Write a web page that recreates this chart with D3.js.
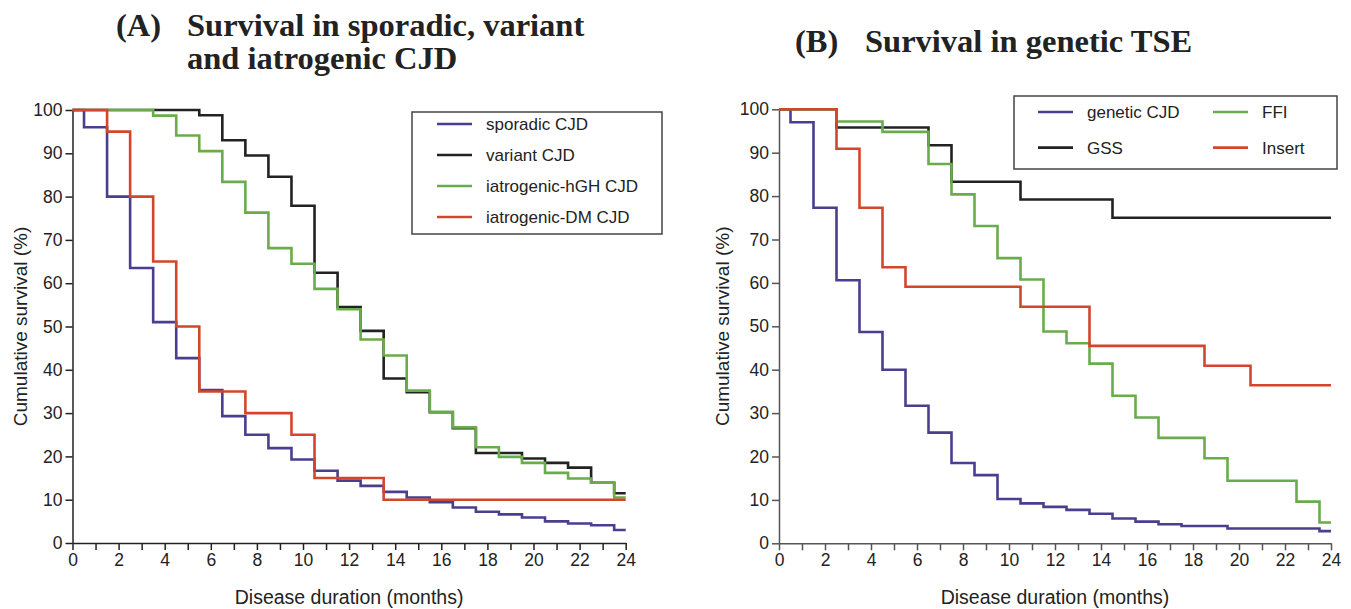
<!DOCTYPE html>
<html>
<head>
<meta charset="utf-8">
<title>Survival in CJD and genetic TSE</title>
<script src="https://cdn.jsdelivr.net/npm/d3@7"></script>
<style>
  body { margin: 0; background: #fff; }
  text { font-family: "Liberation Sans", Arial, Helvetica, sans-serif; fill: #222; }
  .title { font-family: "Liberation Serif", "Times New Roman", serif; font-weight: bold; font-size: 32.5px; fill: #222; }
</style>
</head>
<body>
<svg id="chart" width="1351" height="609"></svg>
<script>
// month at which each interval starts (steps happen at half months)
var stepMonths = [0, 0.5, 1.5, 2.5, 3.5, 4.5, 5.5, 6.5, 7.5, 8.5, 9.5, 10.5, 11.5,
                  12.5, 13.5, 14.5, 15.5, 16.5, 17.5, 18.5, 19.5, 20.5, 21.5, 22.5, 23.5];
var endMonth = 24;

// panel A
var sporadicCJD = [100, 96, 80, 63.5, 51, 42.7, 35.3, 29.3, 25, 21.9, 19.3, 16.7, 14.4,
                   13.2, 11.8, 10.5, 9.4, 8.2, 7.2, 6.6, 5.9, 5.0, 4.5, 4.1, 3.0];
var variantCJD = [100, 100, 100, 100, 100, 100, 98.8, 93, 89.5, 84.6, 77.9, 62.4, 54.5,
                  49, 38, 34.8, 30.2, 26.5, 20.8, 20.8, 19.5, 18.5, 17.4, 13.9, 11.5];
var hghCJD = [100, 100, 100, 100, 98.7, 94.1, 90.5, 83.4, 76.3, 68.1, 64.5, 58.7, 54,
              47, 43.3, 35.2, 30.3, 26.7, 22.1, 19.9, 18.5, 16.2, 14.9, 13.9, 10.5];
var dmCJD = [100, 100, 95, 80, 65, 50, 35, 35, 30, 30, 25, 15, 15,
             15, 10, 10, 10, 10, 10, 10, 10, 10, 10, 10, 10];

// panel B
var geneticCJD = [100, 97, 77.3, 60.6, 48.7, 40, 31.7, 25.5, 18.5, 15.7, 10.2, 9.2, 8.4,
                  7.7, 6.8, 5.7, 5.0, 4.4, 4.0, 4.0, 3.4, 3.4, 3.4, 3.4, 2.8];
var gss = [100, 100, 100, 95.8, 95.8, 95.8, 95.8, 91.7, 83.3, 83.3, 83.3, 79.2, 79.2,
           79.2, 79.2, 75, 75, 75, 75, 75, 75, 75, 75, 75, 75];
var ffi = [100, 100, 100, 97.2, 97.2, 94.8, 94.8, 87.4, 80.4, 73.1, 65.7, 60.8, 48.8,
           46.1, 41.4, 34, 29, 24.3, 24.3, 19.6, 14.4, 14.4, 14.4, 9.6, 4.8];
var insert = [100, 100, 100, 90.9, 77.3, 63.6, 59.1, 59.1, 59.1, 59.1, 59.1, 54.5, 54.5,
              54.5, 45.5, 45.5, 45.5, 45.5, 45.5, 40.9, 40.9, 36.4, 36.4, 36.4, 36.4];

var yTicks = [0, 10, 20, 30, 40, 50, 60, 70, 80, 90, 100];
var xTicks = [0, 1, 2, 3, 4, 5, 6, 7, 8, 9, 10, 11, 12, 13, 14, 15, 16, 17, 18, 19, 20, 21, 22, 23, 24];

var namesA = ["sporadic CJD", "variant CJD", "iatrogenic-hGH CJD", "iatrogenic-DM CJD"];
var namesB = ["genetic CJD", "GSS", "FFI", "Insert"];
var colors = ["#4a3f8e", "#222222", "#6aab4c", "#d2472c"];

var svg = d3.select("#chart");

function stepPoints(vals) {
  var pts = stepMonths.map(function(m, i) { return [m, vals[i]]; });
  pts.push([endMonth, vals[vals.length - 1]]);
  return pts;
}

function drawPanel(opt) {
  var x = d3.scaleLinear().domain([0, 24]).range(opt.xr);
  var y = d3.scaleLinear().domain([0, 100]).range(opt.yr);
  var g = svg.append("g");

  var yAxis = d3.axisLeft(y).tickValues(yTicks).tickSize(7).tickSizeOuter(0).tickPadding(3);
  var xAxis = d3.axisBottom(x).tickValues(xTicks).tickSize(7).tickSizeOuter(0).tickPadding(2)
      .tickFormat(function(d) { return d % 2 == 0 ? d : ""; });

  var ga = g.append("g").attr("transform", "translate(" + opt.xr[0] + ",0)").call(yAxis);
  var gb = g.append("g").attr("transform", "translate(0," + opt.yr[0] + ")").call(xAxis);
  [ga, gb].forEach(function(a) {
    a.selectAll("path, line").attr("stroke", opt.axisColor).attr("stroke-width", 1.5);
    a.selectAll("text").style("font-size", "17.5px").style("fill", "#222")
      .style("font-family", "'Liberation Sans', Arial, sans-serif");
  });
  gb.selectAll("text").attr("dy", "0.8em");

  var line = d3.line()
      .x(function(d) { return x(d[0]); })
      .y(function(d) { return y(d[1]); })
      .curve(d3.curveStepAfter);

  opt.series.forEach(function(s, i) {
    g.append("path")
      .attr("d", line(stepPoints(s)))
      .attr("fill", "none")
      .attr("stroke", colors[i])
      .attr("stroke-width", 2.6);
  });

  // axis titles
  g.append("text")
    .attr("transform", "translate(" + opt.yLabelX + "," + (opt.yr[0] + opt.yr[1]) / 2 + ") rotate(-90)")
    .attr("text-anchor", "middle")
    .attr("dy", "0.35em")
    .style("font-size", "19px")
    .text("Cumulative survival (%)");
  g.append("text")
    .attr("x", (opt.xr[0] + opt.xr[1]) / 2)
    .attr("y", 604)
    .attr("text-anchor", "middle")
    .style("font-size", "19.5px")
    .text("Disease duration (months)");

  // legend
  var L = opt.legend;
  g.append("rect")
    .attr("x", L.x).attr("y", L.y).attr("width", L.w).attr("height", L.h)
    .attr("fill", "#fff").attr("stroke", "#444").attr("stroke-width", 1.5);
  opt.names.forEach(function(n, i) {
    // legend B: genetic CJD / GSS in the first column, FFI / Insert in the second
    var col = L.cols == 2 ? Math.floor(i / 2) : 0;
    var row = L.cols == 2 ? i % 2 : i;
    var lx = L.x + L.lineX + col * L.colW;
    var ly = L.y + L.rowY + row * L.rowH;
    g.append("line")
      .attr("x1", lx).attr("x2", lx + 35).attr("y1", ly).attr("y2", ly)
      .attr("stroke", colors[i]).attr("stroke-width", 2.6);
    g.append("text")
      .attr("x", lx + 49).attr("y", ly).attr("dy", "0.35em")
      .style("font-size", "17px")
      .text(n);
  });
}

drawPanel({
  xr: [72.5, 625.7], yr: [543, 110], axisColor: "#222",
  series: [sporadicCJD, variantCJD, hghCJD, dmCJD], names: namesA, yLabelX: 20,
  legend: { x: 412, y: 112, w: 250, h: 122, cols: 1, lineX: 25, rowY: 12, rowH: 31, colW: 0 }
});
drawPanel({
  xr: [779, 1331], yr: [543.3, 109.3], axisColor: "#555",
  series: [geneticCJD, gss, ffi, insert], names: namesB, yLabelX: 722,
  legend: { x: 1014, y: 96, w: 323, h: 73, cols: 2, lineX: 24, rowY: 16, rowH: 35.6, colW: 175 }
});

// titles
svg.append("text").attr("class", "title").attr("x", 116).attr("y", 36).text("(A)");
svg.append("text").attr("class", "title").attr("x", 187).attr("y", 36).text("Survival in sporadic, variant");
svg.append("text").attr("class", "title").attr("x", 187).attr("y", 69).text("and iatrogenic CJD");
svg.append("text").attr("class", "title").attr("x", 795).attr("y", 52).text("(B)");
svg.append("text").attr("class", "title").attr("x", 865).attr("y", 52).text("Survival in genetic TSE");
</script>
</body>
</html>
